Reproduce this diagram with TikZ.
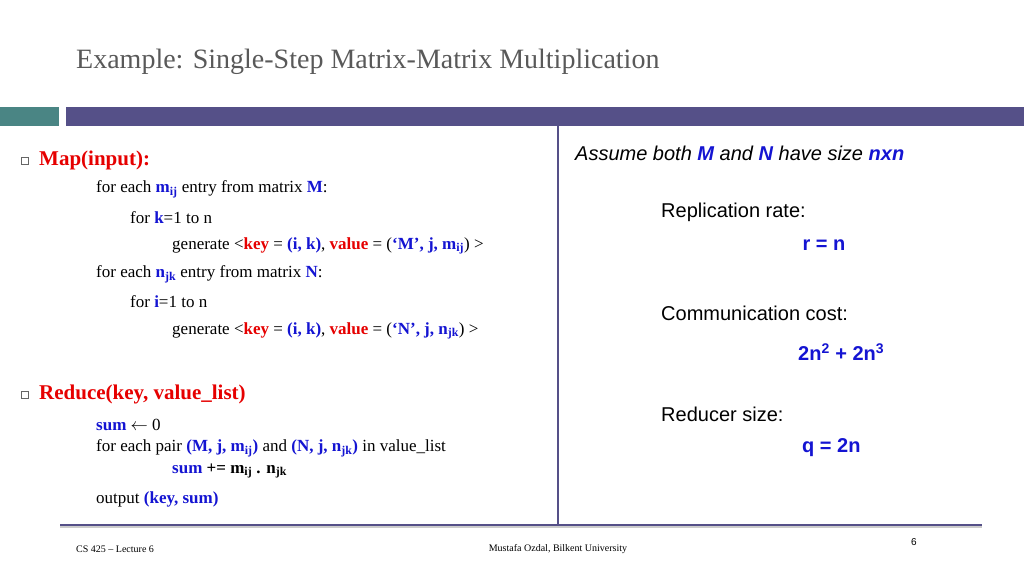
\documentclass[tikz,border=0pt]{standalone}
\usepackage{fontspec}
\setmainfont{Liberation Serif}
\newfontfamily\arial{Liberation Sans}
\definecolor{tealbar}{RGB}{74,133,132}
\definecolor{purplebar}{RGB}{85,80,136}
\definecolor{kred}{RGB}{230,0,0}
\definecolor{kblue}{RGB}{20,20,210}
\definecolor{titlegray}{RGB}{89,89,89}
\begin{document}
\begin{tikzpicture}[x=1pt,y=-1pt,
  txt/.style={anchor=west,inner sep=0pt,font=\fontsize{17}{20}\selectfont},
  rtxt/.style={anchor=west,inner sep=0pt,font=\arial\fontsize{20}{24}\selectfont},
  head/.style={anchor=west,inner sep=0pt,text=kred,font=\fontsize{21}{24}\selectfont\bfseries},
  bul/.style={draw=black!60,line width=0.6pt,minimum size=7pt,inner sep=0pt},
  foot/.style={inner sep=0pt,font=\fontsize{10}{12}\selectfont}]
\useasboundingbox[fill=white] (0,0) rectangle (1024,576);
\newcommand{\R}[1]{\textcolor{kred}{\textbf{#1}}}
\newcommand{\B}[1]{\textcolor{kblue}{\textbf{#1}}}
\node[anchor=west,inner sep=0pt,text=titlegray,font=\fontsize{28}{32}\selectfont] (title) at (76,62) {Example: Single-Step Matrix-Matrix Multiplication};
\fill[tealbar] (0,107) rectangle (59,126);
\fill[purplebar] (66,107) rectangle (1024,126);
\draw[purplebar,line width=2pt] (558,126) -- (558,524);
\draw[black!20,line width=2pt] (60,527) -- (982,527);
\draw[purplebar,line width=1.5pt] (60,525) -- (982,525);
% left
\node[bul] (b1) at (25,161) {};
\node[head] (map) at (39,160) {Map(input):};
\node[txt] (l1) at (96,189) {for each \B{m\textsubscript{ij}} entry from matrix \B{M}:};
\node[txt] (l2) at (130,218) {for \B{k}=1 to n};
\node[txt] (l3) at (172,246) {generate <\R{key} = \B{(i, k)}, \R{value} = (\B{‘M’, j, m\textsubscript{ij}}) >};
\node[txt] (l4) at (96,274) {for each \B{n\textsubscript{jk}} entry from matrix \B{N}:};
\node[txt] (l5) at (130,302) {for \B{i}=1 to n};
\node[txt] (l6) at (172,331) {generate <\R{key} = \B{(i, k)}, \R{value} = (\B{‘N’, j, n\textsubscript{jk}}) >};
\node[bul] (b2) at (25,395) {};
\node[head] (red) at (39,394) {Reduce(key, value\_list)};
\node[txt] (r1) at (96,425) {\B{sum} $\leftarrow$ 0};
\node[txt] (r2) at (96,448) {for each pair \B{(M, j, m\textsubscript{ij})} and \B{(N, j, n\textsubscript{jk})} in value\_list};
\node[txt] (r3) at (172,471) {\B{sum} \textbf{+= m\textsubscript{ij} . n\textsubscript{jk}}};
\node[txt] (r4) at (96,499) {output \B{(key, sum)}};
% right
\node[rtxt] (as) at (575,153) {\itshape Assume both \B{M} and \B{N} have size \B{nxn}};
\node[rtxt] (rep) at (661,212) {Replication rate:};
\node[rtxt,anchor=center] (rn) at (824,245) {\B{r = n}};
\node[rtxt] (cc) at (661,313) {Communication cost:};
\node[rtxt] (cv) at (798,352) {\B{2n\textsuperscript{2} + 2n\textsuperscript{3}}};
\node[rtxt] (rs) at (661,414) {Reducer size:};
\node[rtxt] (q) at (802,448) {\B{q = 2n}};
% footer
\node[foot,anchor=west] (f1) at (76,549) {CS 425 – Lecture 6};
\node[foot] (f2) at (558,549) {Mustafa Ozdal, Bilkent University};
\node[foot,font=\arial\fontsize{10}{12}\selectfont] (f3) at (914,542) {6};
\end{tikzpicture}
\end{document}
